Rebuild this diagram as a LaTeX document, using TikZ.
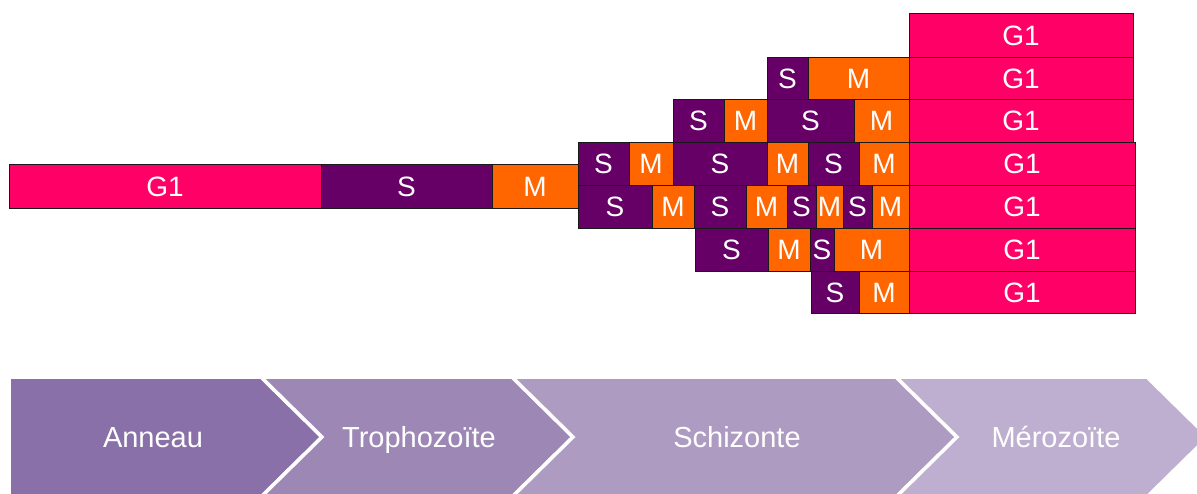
\documentclass[tikz,border=0pt]{standalone}
\usepackage{fontspec}
\setmainfont{Liberation Sans}
\definecolor{gone}{HTML}{FF0066}
\definecolor{sph}{HTML}{660066}
\definecolor{mph}{HTML}{FF6600}
\definecolor{chA}{HTML}{8A70A8}
\definecolor{chB}{HTML}{9D88B5}
\definecolor{chC}{HTML}{AD9BC2}
\definecolor{chD}{HTML}{BEAFD0}
\newcommand\seg[7]{\node[#6, minimum width={(#3-#2)*1pt}, minimum height={(#5-#4)*1pt}] (#1) at ({(#2+#3)/2},{(#4+#5)/2}) {#7};}
\begin{document}
\begin{tikzpicture}[x=1pt,y=-1pt,
  phase/.style={draw=black!90, line width=1pt, inner sep=0pt, text=white,
    font=\fontsize{28}{32}\selectfont, text height=20pt, text depth=0pt},
  gbox/.style={phase, fill=gone},
  sbox/.style={phase, fill=sph},
  mbox/.style={phase, fill=mph},
  chev/.style={draw=white, line width=3.5pt, line join=miter},
  lab/.style={text=white, font=\fontsize{29}{33}\selectfont, text height=20.8pt, text depth=0pt, inner sep=0pt}]
\useasboundingbox (0,0) rectangle (1197,493);
% chevrons
\begin{scope}
\clip (0,0) rectangle (1197,493);
\filldraw[chev, fill=chA] (9,377) -- (261,377) -- (322,437) -- (261,497) -- (9,497) -- cycle;
\filldraw[chev, fill=chB] (261,377) -- (512,377) -- (573,437) -- (512,497) -- (261,497) -- (322,437) -- cycle;
\filldraw[chev, fill=chC] (512,377) -- (896,377) -- (957,437) -- (896,497) -- (512,497) -- (573,437) -- cycle;
\filldraw[chev, fill=chD] (896,377) -- (1147,377) -- (1208,437) -- (1147,497) -- (896,497) -- (957,437) -- cycle;
\end{scope}
\node[lab] (anneau) at (153,437) {Anneau};
\node[lab] (tropho) at (419,437) {Trophozoïte};
\node[lab] (schiz) at (737,437) {Schizonte};
\node[lab] (mero) at (1056,437) {Mérozoïte};
% main bar
\seg{mg}{9}{321}{164}{208}{gbox}{G1}
\seg{ms}{321}{492}{164}{208}{sbox}{S}
\seg{mm}{492}{578}{164}{208}{mbox}{M}
% row 0
\seg{r0g}{909}{1133}{13}{57}{gbox}{G1}
% row 1
\seg{r1s}{767}{808}{57}{99}{sbox}{S}
\seg{r1m}{808}{909}{57}{99}{mbox}{M}
\seg{r1g}{909}{1133}{57}{99}{gbox}{G1}
% row 2
\seg{r2sa}{673}{724}{99}{142}{sbox}{S}
\seg{r2ma}{724}{767}{99}{142}{mbox}{M}
\seg{r2sb}{767}{854}{99}{142}{sbox}{S}
\seg{r2mb}{854}{909}{99}{142}{mbox}{M}
\seg{r2g}{909}{1133}{99}{142}{gbox}{G1}
% row 3
\seg{r3sa}{578}{629}{142}{185}{sbox}{S}
\seg{r3ma}{629}{673}{142}{185}{mbox}{M}
\seg{r3sb}{673}{767}{142}{185}{sbox}{S}
\seg{r3mb}{767}{808}{142}{185}{mbox}{M}
\seg{r3sc}{808}{859}{142}{185}{sbox}{S}
\seg{r3mc}{859}{909}{142}{185}{mbox}{M}
\seg{r3g}{909}{1135}{142}{185}{gbox}{G1}
% row 4
\seg{r4sa}{578}{652}{185}{228}{sbox}{S}
\seg{r4ma}{652}{694}{185}{228}{mbox}{M}
\seg{r4sb}{694}{746}{185}{228}{sbox}{S}
\seg{r4mb}{746}{787}{185}{228}{mbox}{M}
\seg{r4sc}{787}{816}{185}{228}{sbox}{S}
\seg{r4mc}{816}{843}{185}{228}{mbox}{M}
\seg{r4sd}{843}{872}{185}{228}{sbox}{S}
\seg{r4md}{872}{909}{185}{228}{mbox}{M}
\seg{r4g}{909}{1135}{185}{228}{gbox}{G1}
% row 5
\seg{r5sa}{695}{768}{228}{271}{sbox}{S}
\seg{r5ma}{768}{810}{228}{271}{mbox}{M}
\seg{r5sb}{810}{834}{228}{271}{sbox}{S}
\seg{r5mb}{834}{909}{228}{271}{mbox}{M}
\seg{r5g}{909}{1135}{228}{271}{gbox}{G1}
% row 6
\seg{r6s}{811}{859}{271}{313}{sbox}{S}
\seg{r6m}{859}{909}{271}{313}{mbox}{M}
\seg{r6g}{909}{1135}{271}{313}{gbox}{G1}
\end{tikzpicture}
\end{document}
